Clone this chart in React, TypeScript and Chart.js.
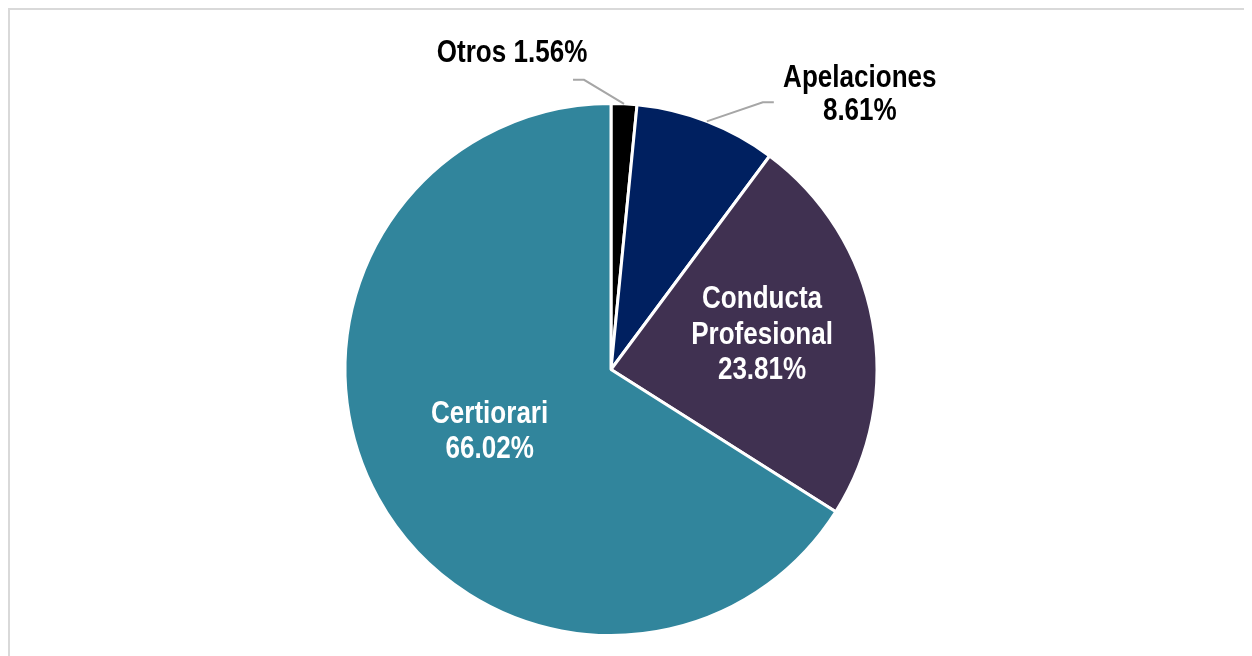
import React, { useEffect, useRef } from "react";
import { Chart, registerables } from "chart.js";

Chart.register(...registerables);

const categories = ["Otros", "Apelaciones", "Conducta Profesional", "Certiorari"];
const shares = [1.56, 8.61, 23.81, 66.02];
const sliceColors = ["#000000", "#002060", "#403151", "#31859C"];

const fmt = (v: number) => `${v.toFixed(2)}%`;
const labelLines: string[][] = [
  [`${categories[0]} ${fmt(shares[0])}`],
  [categories[1], fmt(shares[1])],
  [...categories[2].split(" "), fmt(shares[2])],
  [categories[3], fmt(shares[3])],
];

const FONT_FAMILY = '"Liberation Sans", Arial, sans-serif';
const FONT_SIZE = 31;
const NARROW = 0.84;
const LINE_H = 35.5;

type Spec =
  | { inside: true; f: number; dx: number; dy: number }
  | { inside: false; ex: number; ey: number; hx: number; tx: number; ty: number };

const labelSpecs: Spec[] = [
  { inside: false, ex: -40, ey: -24, hx: -11, tx: -61, ty: -26 },
  { inside: false, ex: 56, ey: -19, hx: 11, tx: 86, ty: -7.5 },
  { inside: true, f: 0.57, dx: 2, dy: -6.5 },
  { inside: true, f: 0.508, dx: -3, dy: -2.5 },
];

function narrowText(ctx: CanvasRenderingContext2D, t: string, x: number, y: number) {
  ctx.save();
  ctx.translate(x, y);
  ctx.scale(NARROW, 1);
  ctx.fillText(t, 0, 0);
  ctx.restore();
}

const labelPlugin = {
  id: "pieLabels",
  afterDatasetsDraw(chart: any) {
    const ctx = chart.ctx as CanvasRenderingContext2D;
    const meta = chart.getDatasetMeta(0);
    ctx.save();
    ctx.font = `bold ${FONT_SIZE}px ${FONT_FAMILY}`;
    ctx.textAlign = "center";
    ctx.textBaseline = "middle";
    meta.data.forEach((arc: any, i: number) => {
      const { x, y, startAngle, endAngle, outerRadius } = arc.getProps(
        ["x", "y", "startAngle", "endAngle", "outerRadius"],
        true
      );
      const mid = (startAngle + endAngle) / 2;
      const c = Math.cos(mid);
      const s = Math.sin(mid);
      const lines = labelLines[i];
      const spec = labelSpecs[i];
      if (spec.inside) {
        const cx = x + c * outerRadius * spec.f + spec.dx;
        const cy = y + s * outerRadius * spec.f + spec.dy;
        ctx.fillStyle = "#FFFFFF";
        lines.forEach((t, k) => narrowText(ctx, t, cx, cy + (k - (lines.length - 1) / 2) * LINE_H));
      } else {
        const px = x + c * outerRadius;
        const py = y + s * outerRadius;
        const ex = px + spec.ex;
        const ey = py + spec.ey;
        const hx = ex + spec.hx;
        ctx.strokeStyle = "#A6A6A6";
        ctx.lineWidth = 2;
        ctx.beginPath();
        ctx.moveTo(px, py);
        ctx.lineTo(ex, ey);
        ctx.lineTo(hx, ey);
        ctx.stroke();
        ctx.fillStyle = "#000000";
        const bx = hx + spec.tx;
        const by = ey + spec.ty;
        lines.forEach((t, k) => narrowText(ctx, t, bx, by + (k - (lines.length - 1) / 2) * (LINE_H - 2)));
      }
    });
    ctx.restore();
  },
};

export default function App() {
  const canvasRef = useRef<HTMLCanvasElement | null>(null);

  useEffect(() => {
    document.documentElement.style.overflow = "hidden";
    if (!canvasRef.current) return;
    const chart = new Chart(canvasRef.current, {
      type: "pie",
      data: {
        labels: categories,
        datasets: [
          {
            data: shares,
            backgroundColor: sliceColors,
            borderColor: "#FFFFFF",
            borderWidth: 3,
            hoverOffset: 0,
          },
        ],
      },
      options: {
        responsive: false,
        animation: false,
        devicePixelRatio: 1,
        layout: { padding: { top: 92, bottom: 19, left: 0, right: 40 } },
        plugins: {
          legend: { display: false },
          tooltip: { enabled: false },
          title: { display: false },
        },
      },
      plugins: [labelPlugin],
    });
    return () => chart.destroy();
  }, []);

  return (
    <div
      style={{
        width: 1250,
        height: 648,
        boxSizing: "border-box",
        borderTop: "2px solid #D9D9D9",
        borderLeft: "2px solid #D9D9D9",
        background: "#FFFFFF",
      }}
    >
      <canvas ref={canvasRef} width={1242} height={646} style={{ display: "block" }} />
    </div>
  );
}
